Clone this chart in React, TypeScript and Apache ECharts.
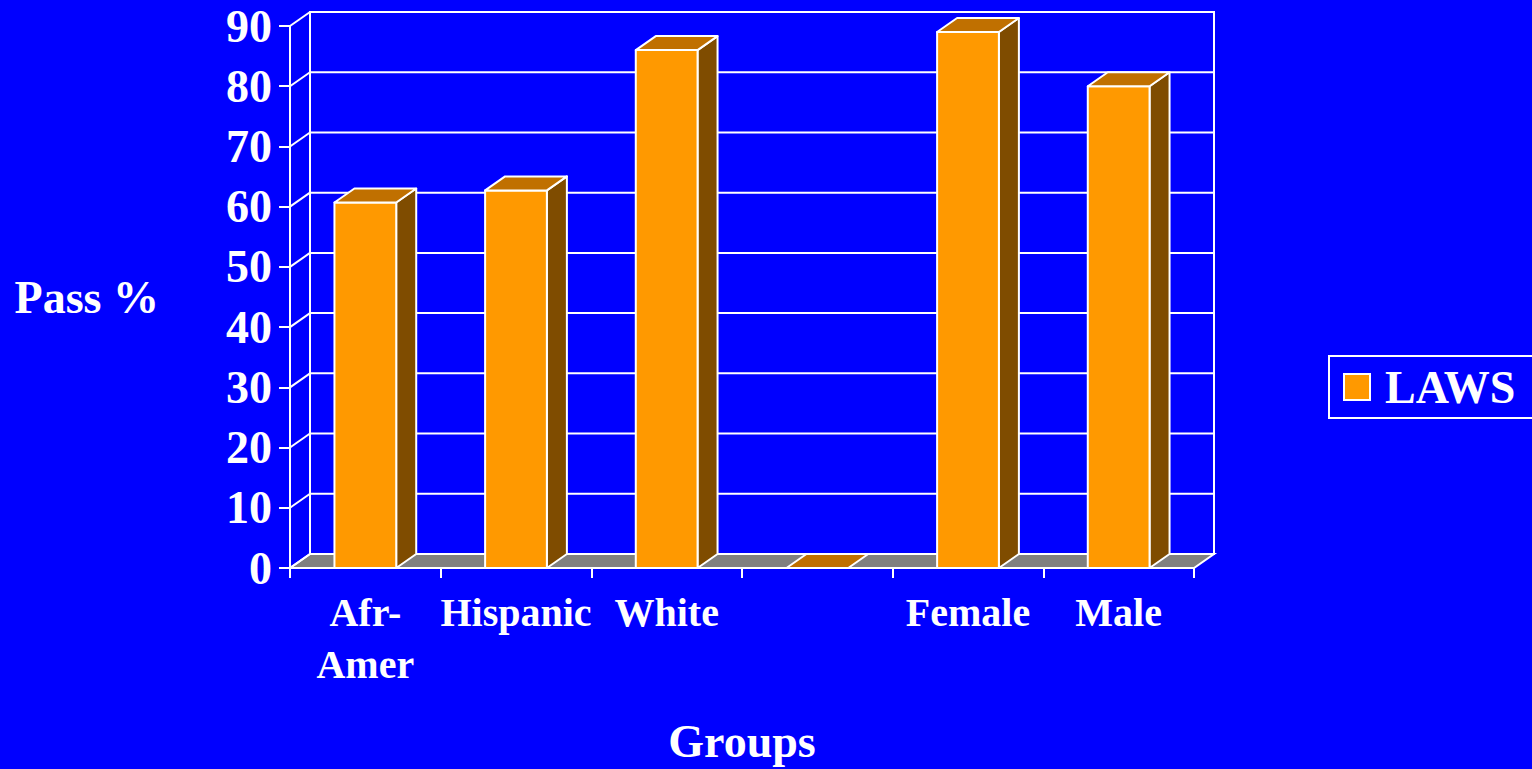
import React, { useEffect, useRef } from "react";
import * as echarts from "echarts";

const categories = ["Afr-\nAmer", "Hispanic", "White", "", "Female", "Male"];
const lawsValues = [60.7, 62.7, 86, 0, 89, 80];
const yTicks = [0, 10, 20, 30, 40, 50, 60, 70, 80, 90];
const seriesName = "LAWS";
const yAxisTitle = "Pass %";
const xAxisTitle = "Groups";

const FONT = "'Liberation Serif', 'Times New Roman', serif";
const BG = "#0000FF";
const WHITE = "#FFFFFF";
const FRONT = "#FF9900";
const TOP = "#C07000";
const SIDE = "#7F4C00";
const FLOOR = "#808080";
const DX = 20;
const DY = -14;

export default function App() {
  const ref = useRef<HTMLDivElement>(null);

  useEffect(() => {
    if (!ref.current) return;
    const chart = echarts.init(ref.current, undefined, { renderer: "svg" });

    const wallRender = (params: any, api: any) => {
      const cs = params.coordSys;
      const v = api.value(0);
      const y = api.coord([0, v])[1];
      const left = cs.x;
      const right = cs.x + cs.width;
      const children: any[] = [];
      const lineStyle = { stroke: WHITE, lineWidth: 2 };
      if (params.dataIndex === 0) {
        children.push({
          type: "rect",
          shape: { x: left + DX, y: cs.y + DY, width: cs.width, height: cs.height },
          style: { fill: BG, stroke: WHITE, lineWidth: 2 },
        });
        children.push({
          type: "polygon",
          shape: {
            points: [
              [left, y],
              [right, y],
              [right + DX, y + DY],
              [left + DX, y + DY],
            ],
          },
          style: { fill: FLOOR, stroke: WHITE, lineWidth: 2 },
        });
      } else {
        children.push({
          type: "line",
          shape: { x1: left + DX, y1: y + DY, x2: right + DX, y2: y + DY },
          style: lineStyle,
        });
      }
      children.push({
        type: "line",
        shape: { x1: left, y1: y, x2: left + DX, y2: y + DY },
        style: lineStyle,
      });
      return { type: "group", children };
    };

    const barRender = (params: any, api: any) => {
      const idx = api.value(0);
      const val = api.value(1);
      const base = api.coord([idx, 0]);
      const top = api.coord([idx, val]);
      const band = api.size([1, 0])[0];
      const w = band * 0.41;
      const x0 = base[0] - w / 2;
      const x1 = x0 + w;
      const yB = base[1];
      const yT = top[1];
      const stroke = { stroke: WHITE, lineWidth: 2, lineJoin: "round" };
      const children: any[] = [];
      if (yB - yT > 0.5) {
        children.push({
          type: "polygon",
          shape: { points: [[x1, yT], [x1 + DX, yT + DY], [x1 + DX, yB + DY], [x1, yB]] },
          style: { fill: SIDE, ...stroke },
        });
        children.push({
          type: "rect",
          shape: { x: x0, y: yT, width: w, height: yB - yT },
          style: { fill: FRONT, ...stroke },
        });
      }
      children.push({
        type: "polygon",
        shape: { points: [[x0, yT], [x1, yT], [x1 + DX, yT + DY], [x0 + DX, yT + DY]] },
        style: { fill: TOP, ...stroke },
      });
      return { type: "group", children };
    };

    const option: any = {
      animation: false,
      backgroundColor: BG,
      textStyle: { fontFamily: FONT },
      grid: { left: 290, right: 338, top: 26, bottom: 201, containLabel: false },
      legend: {
        data: [seriesName],
        left: 1329,
        top: 356,
        borderColor: WHITE,
        borderWidth: 2,
        padding: [8, 20, 8, 14],
        itemWidth: 26,
        itemHeight: 26,
        icon: "rect",
        itemStyle: { borderColor: WHITE, borderWidth: 2 },
        textStyle: {
          color: WHITE,
          fontSize: 46,
          fontWeight: "bold",
          fontFamily: FONT,
          padding: [0, 0, 0, 10],
        },
      },
      xAxis: {
        type: "category",
        data: categories,
        name: xAxisTitle,
        nameLocation: "middle",
        nameGap: 150,
        nameTextStyle: { color: WHITE, fontSize: 46, fontWeight: "bold", fontFamily: FONT },
        axisLine: { lineStyle: { color: WHITE, width: 2 } },
        axisTick: { show: true, length: 10, alignWithLabel: false, lineStyle: { color: WHITE, width: 2 } },
        axisLabel: {
          interval: 0,
          color: WHITE,
          fontSize: 40,
          fontWeight: "bold",
          fontFamily: FONT,
          lineHeight: 52,
          margin: 18,
        },
        splitLine: { show: false },
      },
      yAxis: {
        type: "value",
        min: 0,
        max: 90,
        interval: 10,
        name: yAxisTitle,
        nameLocation: "middle",
        nameRotate: 0,
        nameGap: 131,
        nameTextStyle: {
          color: WHITE,
          fontSize: 46,
          fontWeight: "bold",
          fontFamily: FONT,
          padding: [6, 0, 0, 0],
        },
        axisLine: { show: true, lineStyle: { color: WHITE, width: 2 } },
        axisTick: { show: true, length: 11, lineStyle: { color: WHITE, width: 2 } },
        axisLabel: {
          color: WHITE,
          fontSize: 46,
          fontWeight: "bold",
          fontFamily: FONT,
          margin: 18,
        },
        splitLine: { show: false },
      },
      series: [
        {
          type: "custom",
          name: "wall",
          silent: true,
          renderItem: wallRender,
          data: yTicks.map((v) => [v]),
          encode: { y: 0 },
          z: 1,
        },
        {
          type: "custom",
          name: seriesName,
          renderItem: barRender,
          itemStyle: { color: FRONT },
          data: lawsValues.map((v, i) => [i, v]),
          encode: { x: 0, y: 1 },
          z: 3,
        },
      ],
    };

    chart.setOption(option);
    return () => chart.dispose();
  }, []);

  return (
    <div
      ref={ref}
      style={{ position: "fixed", left: 0, top: 0, width: 1532, height: 769 }}
    />
  );
}
